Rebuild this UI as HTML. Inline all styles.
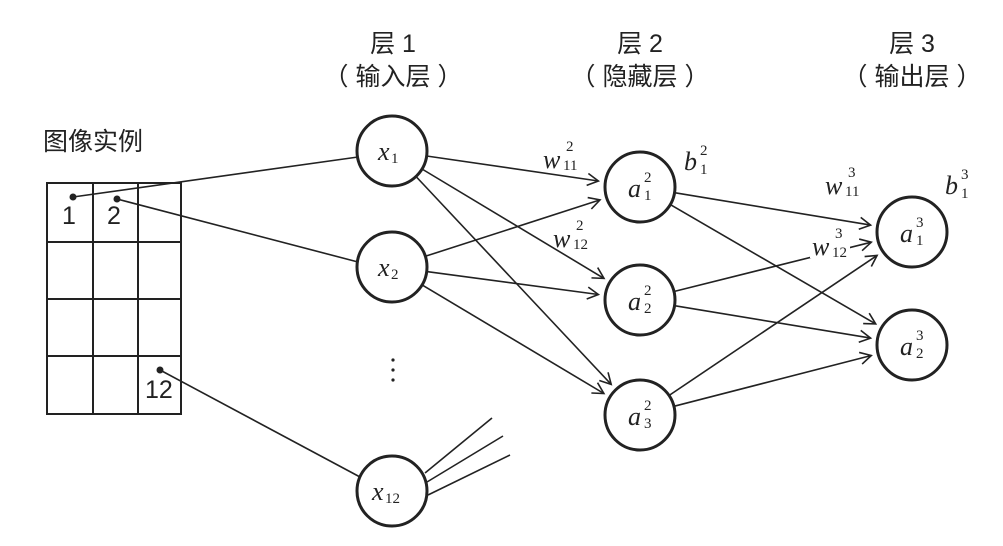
<!DOCTYPE html>
<html><head><meta charset="utf-8"><style>
html,body{margin:0;padding:0;background:#fff;}
svg{display:block}
.cj{font-family:"Liberation Sans","Noto Sans CJK SC",sans-serif;fill:#222;font-size:25px}
.m{font-family:"Liberation Serif",serif;font-style:italic;fill:#222}
.s{font-family:"Liberation Serif",serif;fill:#222}
</style></head><body>
<svg width="1003" height="546" viewBox="0 0 1003 546" xmlns="http://www.w3.org/2000/svg">
<defs><marker id="ar" markerWidth="14" markerHeight="14" refX="12" refY="7" orient="auto" markerUnits="userSpaceOnUse">
<path d="M1,1 L12,7 L1,13" fill="none" stroke="#222" stroke-width="1.6"/></marker></defs>
<g class="cj" text-anchor="middle">
<text x="393" y="52">层 1</text><text x="393" y="85">（ 输入层 ）</text>
<text x="640" y="52">层 2</text><text x="640" y="85">（ 隐藏层 ）</text>
<text x="912" y="52">层 3</text><text x="912" y="85">（ 输出层 ）</text>
<text x="93" y="150" text-anchor="middle">图像实例</text>
</g>
<g stroke="#222" stroke-width="2" fill="none">
<rect x="47" y="183" width="134" height="231"/>
<line x1="93" y1="183" x2="93" y2="414"/><line x1="138" y1="183" x2="138" y2="414"/>
<line x1="47" y1="242" x2="181" y2="242"/><line x1="47" y1="299" x2="181" y2="299"/><line x1="47" y1="356" x2="181" y2="356"/>
</g>
<g class="cj" font-size="24"><text x="62" y="224">1</text><text x="107" y="224">2</text><text x="145" y="398">12</text></g>
<g fill="#222"><circle cx="73" cy="197" r="3.5"/><circle cx="117" cy="199" r="3.5"/><circle cx="160" cy="370" r="3.5"/>
<circle cx="393" cy="360" r="1.6"/><circle cx="393" cy="370" r="1.6"/><circle cx="393" cy="380" r="1.6"/></g>
<g stroke="#222" stroke-width="1.6">
<line x1="73" y1="197" x2="358" y2="157"/>
<line x1="117" y1="199" x2="358" y2="262"/>
<line x1="160" y1="370" x2="360" y2="477"/>
<line x1="425" y1="473" x2="492" y2="418"/>
<line x1="427" y1="482" x2="503" y2="436"/>
<line x1="428" y1="495" x2="510" y2="455"/>
</g>
<g stroke="#222" stroke-width="1.6" fill="none" marker-end="url(#ar)">
<line x1="426.6" y1="156" x2="598.4" y2="181"/>
<line x1="422" y1="169" x2="604" y2="278.4"/>
<line x1="416" y1="176.5" x2="611.2" y2="384.4"/>
<line x1="425.3" y1="256.3" x2="600" y2="199.9"/>
<line x1="426.7" y1="271.6" x2="598.4" y2="294.5"/>
<line x1="422.1" y1="284.9" x2="603.9" y2="393.5"/>
<line x1="674.5" y1="192.7" x2="870.6" y2="225.1"/>
<line x1="670.3" y1="204.6" x2="875.7" y2="323.9"/>
<line x1="674" y1="291.5" x2="871.3" y2="242.2"/>
<line x1="674.5" y1="305.7" x2="870.6" y2="338.1"/>
<line x1="669" y1="395.5" x2="877.1" y2="255.4"/>
<line x1="673.9" y1="406.3" x2="871.3" y2="355.5"/>
</g>
<g stroke="#222" stroke-width="3" fill="#fff">
<circle cx="392" cy="151" r="35"/><circle cx="392" cy="267" r="35"/><circle cx="392" cy="491" r="35"/>
<circle cx="640" cy="187" r="35"/><circle cx="640" cy="300" r="35"/><circle cx="640" cy="415" r="35"/>
<circle cx="912" cy="232" r="35"/><circle cx="912" cy="345" r="35"/>
</g>
<rect x="810" y="236" width="40" height="22" fill="#fff"/>
<g class="m" font-size="26">
<text x="378" y="160">x</text><text x="378" y="276">x</text><text x="372" y="500">x</text>
<text x="628" y="197">a</text><text x="628" y="310">a</text><text x="628" y="425">a</text>
<text x="900" y="242">a</text><text x="900" y="355">a</text>
<text x="543" y="168">w</text><text x="553" y="247">w</text><text x="684" y="170">b</text>
<text x="825" y="194">w</text><text x="812" y="255">w</text><text x="945" y="194">b</text>
</g>
<g class="s" font-size="15">
<text x="391" y="163">1</text><text x="391" y="279">2</text><text x="385" y="503">12</text>
<text x="644" y="182">2</text><text x="644" y="200">1</text>
<text x="644" y="295">2</text><text x="644" y="313">2</text>
<text x="644" y="410">2</text><text x="644" y="428">3</text>
<text x="916" y="227">3</text><text x="916" y="245">1</text>
<text x="916" y="340">3</text><text x="916" y="358">2</text>
<text x="566" y="151">2</text><text x="563" y="170">11</text>
<text x="576" y="230">2</text><text x="573" y="249">12</text>
<text x="700" y="155">2</text><text x="700" y="174">1</text>
<text x="848" y="177">3</text><text x="845" y="196">11</text>
<text x="835" y="238">3</text><text x="832" y="257">12</text>
<text x="961" y="179">3</text><text x="961" y="198">1</text>
</g>
</svg>
</body></html>
